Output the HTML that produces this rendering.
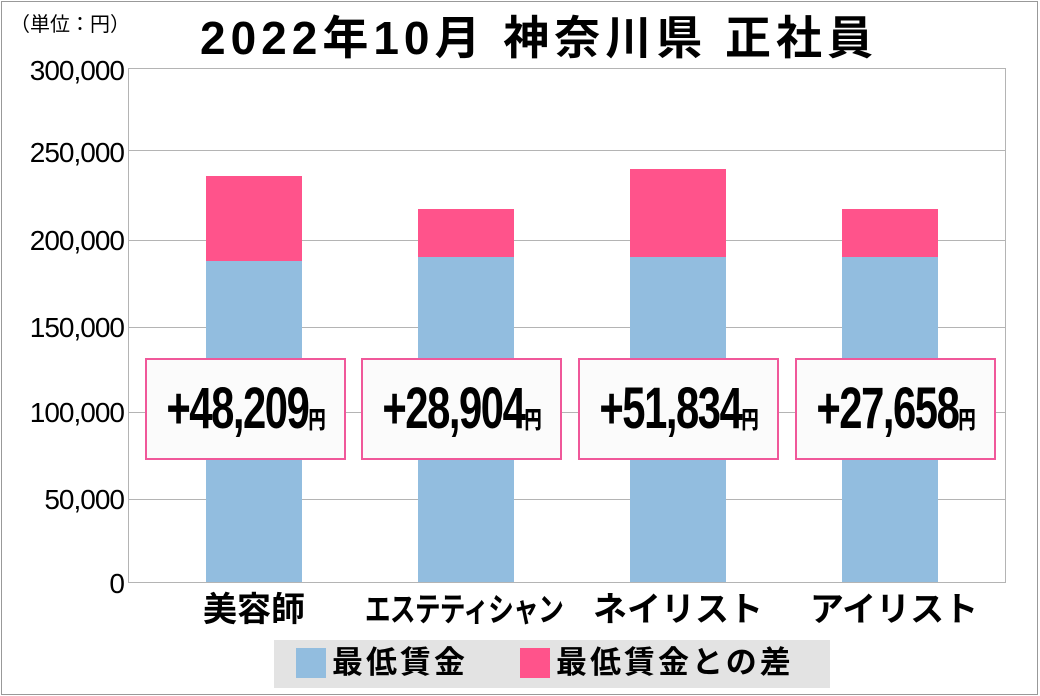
<!DOCTYPE html>
<html><head><meta charset="utf-8"><style>
body{margin:0;width:1040px;height:696px;background:#fff;position:relative;overflow:hidden;font-family:"Liberation Sans","Noto Sans CJK JP",sans-serif}
.a{position:absolute}
.g{position:absolute;left:128px;width:878px;height:1px;background:#b4b4b4}
.yl{position:absolute;left:0;width:124px;text-align:right;font-size:28px;line-height:30px;color:#000;letter-spacing:-1px}
.bl{position:absolute;background:#92bddf;width:96px}
.pk{position:absolute;background:#ff538b;width:96px}
.box{position:absolute;top:358px;height:102px;width:201px;border:2px solid #f0589a;background:#fbfbfb;box-sizing:border-box;font-weight:bold;line-height:98px;white-space:nowrap}
.box b{position:absolute;left:50%;top:0;font-size:58px;letter-spacing:-2px;transform:translateX(-50%) scaleX(0.72)}
.box b span{font-size:24px;letter-spacing:0}
.xl{position:absolute;top:590px;font-weight:bold;font-size:34px;text-align:center;width:220px;line-height:40px;white-space:nowrap}
</style></head><body>
<div class="a" style="left:1px;top:1px;width:1035px;height:692px;border:1px solid #999"></div>
<div class="a" style="left:10px;top:12px;font-size:20px;line-height:26px">（単位：円）</div>
<div class="a" style="left:200px;top:12px;font-size:46px;font-weight:bold;line-height:52px;letter-spacing:5px;white-space:nowrap">2022年10月 神奈川県 正社員</div>
<div class="g" style="top:68px"></div>
<div class="g" style="top:150px"></div>
<div class="g" style="top:240px"></div>
<div class="g" style="top:327px"></div>
<div class="g" style="top:412px"></div>
<div class="g" style="top:499px"></div>
<div class="g" style="top:582px"></div>
<div class="a" style="left:128px;top:68px;width:1px;height:515px;background:#b4b4b4"></div>
<div class="a" style="left:1005px;top:68px;width:1px;height:515px;background:#b4b4b4"></div>
<div class="yl" style="top:56px">300,000</div>
<div class="yl" style="top:138px">250,000</div>
<div class="yl" style="top:226px">200,000</div>
<div class="yl" style="top:313px">150,000</div>
<div class="yl" style="top:398px">100,000</div>
<div class="yl" style="top:485px">50,000</div>
<div class="yl" style="top:569px">0</div>
<div class="pk" style="left:206px;top:176px;height:85px"></div><div class="bl" style="left:206px;top:261px;height:321px"></div>
<div class="pk" style="left:418px;top:209px;height:48px"></div><div class="bl" style="left:418px;top:257px;height:325px"></div>
<div class="pk" style="left:630px;top:169px;height:88px"></div><div class="bl" style="left:630px;top:257px;height:325px"></div>
<div class="pk" style="left:842px;top:209px;height:48px"></div><div class="bl" style="left:842px;top:257px;height:325px"></div>
<div class="box" style="left:145px"><b>+48,209<span>円</span></b></div>
<div class="box" style="left:361px"><b>+28,904<span>円</span></b></div>
<div class="box" style="left:578px"><b>+51,834<span>円</span></b></div>
<div class="box" style="left:795px"><b>+27,658<span>円</span></b></div>
<div class="xl" style="left:144px">美容師</div>
<div class="xl" style="left:354px;width:220px"><span style="position:absolute;left:50%;top:0;font-size:33px;transform:translateX(-50%) scaleX(0.78);letter-spacing:-1px">エステティシャン</span></div>
<div class="xl" style="left:568px">ネイリスト</div>
<div class="xl" style="left:784px">アイリスト</div>
<div class="a" style="left:274px;top:640px;width:556px;height:48px;background:#e3e3e3"></div>
<div class="a" style="left:296px;top:648px;width:30px;height:30px;background:#92bddf"></div>
<div class="a" style="left:332px;top:641px;font-size:31px;line-height:44px;letter-spacing:3px;font-weight:bold">最低賃金</div>
<div class="a" style="left:520px;top:648px;width:30px;height:30px;background:#ff538b"></div>
<div class="a" style="left:556px;top:641px;font-size:31px;line-height:44px;letter-spacing:3px;font-weight:bold">最低賃金との差</div>
</body></html>
